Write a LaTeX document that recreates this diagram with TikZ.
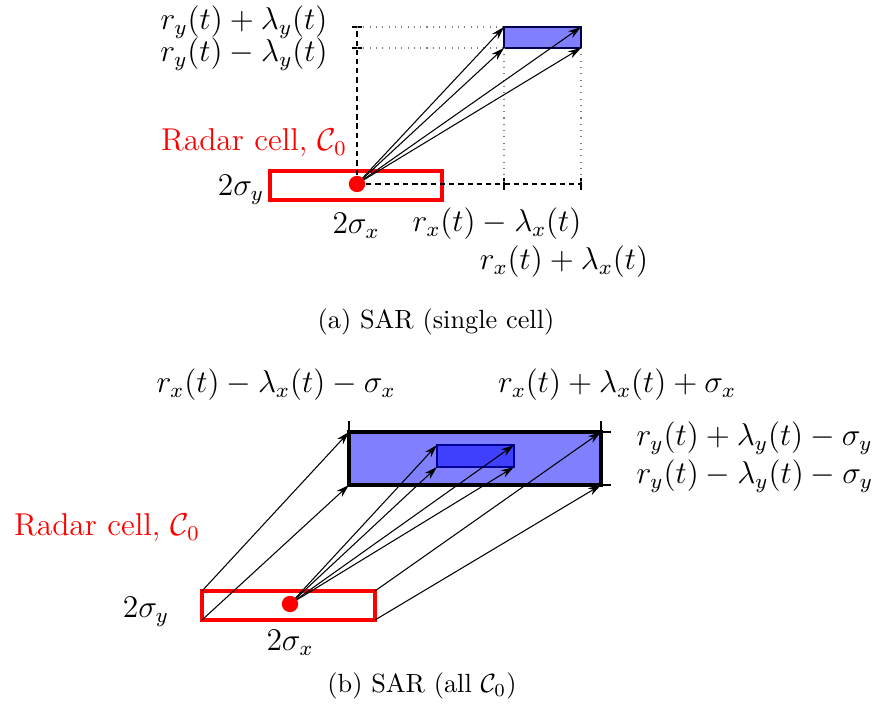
\documentclass[tikz,border=0pt]{standalone}
\usetikzlibrary{arrows.meta}
\begin{document}
\begin{tikzpicture}[x=0.38pt,y=-0.38pt,
  lbl/.style={font=\large, inner sep=0pt},
  redlbl/.style={font=\large, text=red, inner sep=0pt},
  captxt/.style={font=\normalsize, inner sep=0pt},
  redbox/.style={draw=red, line width=1.2pt},
  arr/.style={-{Stealth[length=5pt,width=3pt]}, line width=0.4pt},
  dsh/.style={dash pattern=on 2pt off 1.5pt, line width=0.4pt},
  dtt/.style={dotted, gray, line width=0.4pt},
  tickln/.style={line width=0.5pt}]
\useasboundingbox (0,0) rectangle (877,704);
% ---------- (a) ----------
\coordinate (adot) at (357,184);
\coordinate (atl) at (504,27);
\coordinate (atr) at (581,27);
\coordinate (abl) at (504,48);
\coordinate (abr) at (581,48);
\coordinate (ayt) at (357,27);
\coordinate (ayb) at (357,48);
\coordinate (axl) at (504,184);
\coordinate (axr) at (581,184);
\draw[redbox] (270,171) rectangle (442,200);
\filldraw[fill=blue!50, draw=blue!30!black, line width=0.4pt] (atl) rectangle (abr);
\draw[dsh] (adot) -- (ayt);
\draw[dsh] (adot) -- (axr);
\draw[tickln] (352,27) -- (362,27);
\draw[tickln] (352,48) -- (362,48);
\draw[tickln] (504,178) -- (504,190);
\draw[tickln] (581,178) -- (581,190);
\draw[dtt] (ayt) -- (atl);
\draw[dtt] (ayb) -- (abl);
\draw[dtt] (abl) -- (axl);
\draw[dtt] (abr) -- (axr);
\foreach \c in {atl,abl,atr,abr} \draw[arr] (adot) -- (\c);
\fill[red] (adot) circle (3.1pt);
\node[lbl] (ay1) at (244,22) {$r_y(t)+\lambda_y(t)$};
\node[lbl] (ay2) at (244,54) {$r_y(t)-\lambda_y(t)$};
\node[redlbl] (arad) at (254,143) {Radar cell, $\mathcal{C}_0$};
\node[lbl] (asy) at (241,190) {$2\sigma_y$};
\node[lbl] (asx) at (356,226) {$2\sigma_x$};
\node[lbl] (ax1) at (497,224) {$r_x(t)-\lambda_x(t)$};
\node[lbl] (ax2) at (564,262) {$r_x(t)+\lambda_x(t)$};
\node[captxt] (capa) at (436,322) {(a) SAR (single cell)};
% ---------- (b) ----------
\coordinate (bdot) at (290,604);
\coordinate (rtl) at (202,591);
\coordinate (rbl) at (202,620);
\coordinate (rtr) at (375,591);
\coordinate (rbr) at (375,620);
\coordinate (btl) at (349,432);
\coordinate (bbl) at (349,485);
\coordinate (btr) at (601,432);
\coordinate (bbr) at (601,485);
\coordinate (itl) at (437,445);
\coordinate (ibl) at (437,467);
\coordinate (itr) at (514,445);
\coordinate (ibr) at (514,467);
\filldraw[fill=blue!50, draw=black, line width=1.5pt] (btl) rectangle (bbr);
\filldraw[fill=blue!75, draw=blue!60!black, line width=0.4pt] (itl) rectangle (ibr);
\draw[tickln] (349,421) -- (btl);
\draw[tickln] (601,421) -- (btr);
\draw[tickln] (btr) -- (611,432);
\draw[tickln] (bbr) -- (611,485);
\draw[redbox] (rtl) rectangle (rbr);
\draw[arr] (rtl) -- (btl);
\draw[arr] (rbl) -- (bbl);
\draw[arr] (rtr) -- (btr);
\draw[arr] (rbr) -- (bbr);
\foreach \c in {itl,ibl,itr,ibr} \draw[arr] (bdot) -- (\c);
\fill[red] (bdot) circle (3.1pt);
\node[lbl] (bx1) at (276,385) {$r_x(t)-\lambda_x(t)-\sigma_x$};
\node[lbl] (bx2) at (617,385) {$r_x(t)+\lambda_x(t)+\sigma_x$};
\node[lbl, anchor=west] (by1) at (636,438) {$r_y(t)+\lambda_y(t)-\sigma_y$};
\node[lbl, anchor=west] (by2) at (636,476) {$r_y(t)-\lambda_y(t)-\sigma_y$};
\node[redlbl] (brad) at (107,528) {Radar cell, $\mathcal{C}_0$};
\node[lbl] (bsy) at (146,612) {$2\sigma_y$};
\node[lbl] (bsx) at (290,643) {$2\sigma_x$};
\node[captxt] (capb) at (422,686) {(b) SAR (all $\mathcal{C}_0$)};
\end{tikzpicture}
\end{document}
